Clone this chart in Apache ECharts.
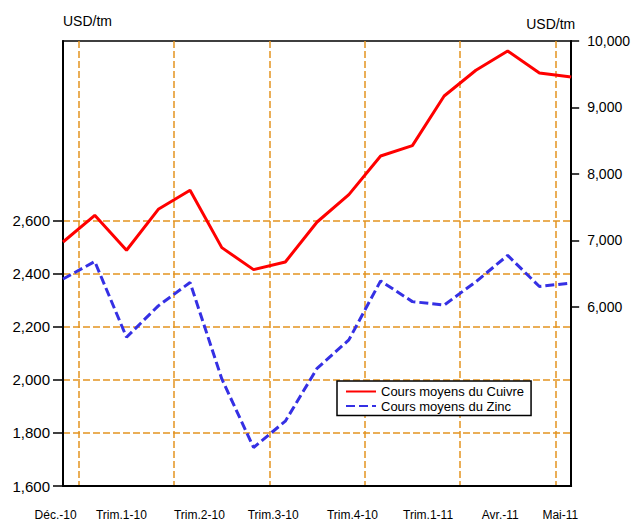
<!DOCTYPE html>
<html>
<head>
<meta charset="utf-8">
<script src="https://cdn.jsdelivr.net/npm/echarts@6/dist/echarts.min.js"></script>
<style>html,body{margin:0;padding:0;background:#fff}#c{width:633px;height:524px}</style>
</head>
<body>
<div id="c"></div>
<script>
// Monthly periods (Dec-09 .. Apr-11)
const months = ['Déc.-09','Janv.-10','Févr.-10','Mars-10','Avr.-10','Mai-10','Juin-10','Juil.-10','Août-10','Sept.-10','Oct.-10','Nov.-10','Déc.-10','Janv.-11','Févr.-11','Mars-11','Avr.-11'];
// Copper (right axis, USD/tm)
const cuivre = [6974, 7376, 6849, 7466, 7752, 6889, 6558, 6673, 7275, 7687, 8269, 8425, 9172, 9559, 9849, 9518, 9458];
// Zinc (left axis, USD/tm)
const zinc = [2379, 2445, 2160, 2278, 2366, 2003, 1745, 1844, 2043, 2150, 2372, 2294, 2281, 2369, 2468, 2351, 2364];
// Category tick labels and where they sit (in month index units)
const xLabels = ['Déc.-10','Trim.1-10','Trim.2-10','Trim.3-10','Trim.4-10','Trim.1-11','Avr.-11','Mai-11'];
const xLabelAt = [-0.23, 1.83, 4.27, 6.58, 9.06, 11.43, 13.69, 15.57];
// Quarter separators (vertical grid lines)
const quarterBreaks = [0.5, 3.5, 6.5, 9.5, 12.5, 15.5];
// Axis tick labels
const leftTicks = [1600, 1800, 2000, 2200, 2400, 2600];
const rightTicks = [6000, 7000, 8000, 9000, 10000];
const seriesNames = ['Cours moyens du Cuivre', 'Cours moyens du Zinc'];

const FONT = 'Liberation Sans, Arial, sans-serif';
const fmt = v => Number(v).toLocaleString('en-US');
const gridColor = '#E39420';

const chart = echarts.init(document.getElementById('c'), null, {renderer: 'svg'});
chart.setOption({
  animation: false,
  textStyle: {fontFamily: FONT},
  grid: [
    {left: 63, right: 59, top: 41, bottom: 38, show: true, borderColor: '#000', borderWidth: 1.5, backgroundColor: 'transparent'},
    {left: 47, right: 43, top: 41, bottom: 38}
  ],
  legend: {
    data: seriesNames,
    orient: 'vertical',
    left: 337, top: 381,
    itemWidth: 30, itemHeight: 14, itemGap: 1.5,
    padding: [4, 7, 3, 8],
    borderColor: '#000', borderWidth: 1.5,
    backgroundColor: '#fff',
    itemStyle: {opacity: 0},
    textStyle: {fontSize: 13, color: '#000', fontFamily: FONT}
  },
  xAxis: [
    {
      type: 'value', gridIndex: 0, min: 0, max: months.length - 1,
      axisLine: {show: true, onZero: false, lineStyle: {color: '#000', width: 2}},
      axisTick: {show: false, customValues: quarterBreaks},
      axisLabel: {show: false},
      splitLine: {show: true, lineStyle: {color: gridColor, type: [7, 3], width: 1.5}}
    },
    {
      type: 'value', gridIndex: 1, min: -0.5, max: months.length - 0.5,
      axisLine: {show: false}, axisTick: {show: false}, splitLine: {show: false},
      axisLabel: {
        customValues: xLabelAt,
        formatter: v => {
          let best = 0;
          xLabelAt.forEach((p, i) => { if (Math.abs(p - v) < Math.abs(xLabelAt[best] - v)) best = i; });
          return xLabels[best];
        },
        margin: 23, fontSize: 12, color: '#000', fontFamily: FONT
      }
    }
  ],
  yAxis: [
    {
      type: 'value', gridIndex: 0, position: 'left', min: 1600, max: 3275,
      name: 'USD/tm', nameLocation: 'end', nameGap: 13,
      nameTextStyle: {align: 'left', fontSize: 14, color: '#000', fontFamily: FONT},
      axisLine: {show: true, lineStyle: {color: '#000', width: 2}},
      axisTick: {show: true, length: 10, customValues: leftTicks, lineStyle: {color: '#000', width: 1.5}},
      axisLabel: {customValues: leftTicks, formatter: fmt, fontSize: 15, margin: 13, color: '#000', fontFamily: FONT},
      splitLine: {show: true, lineStyle: {color: gridColor, type: [7, 3], width: 1.5}}
    },
    {
      type: 'value', gridIndex: 0, position: 'right', min: 3300, max: 10000,
      name: 'USD/tm', nameLocation: 'end', nameGap: 10,
      nameTextStyle: {align: 'right', fontSize: 14, color: '#000', fontFamily: FONT, padding: [0, -4, 0, 0]},
      axisLine: {show: true, lineStyle: {color: '#000', width: 2}},
      axisTick: {show: true, length: 8, customValues: rightTicks, lineStyle: {color: '#000', width: 1.5}},
      axisLabel: {customValues: rightTicks, formatter: fmt, fontSize: 14, margin: 16, color: '#000', fontFamily: FONT},
      splitLine: {show: false}
    },
    {
      type: 'value', gridIndex: 1, show: false, min: 0, max: 1,
      splitLine: {show: false}
    }
  ],
  series: [
    {
      name: seriesNames[0], type: 'line', xAxisIndex: 0, yAxisIndex: 1,
      data: cuivre.map((v, i) => [i, v]),
      symbol: 'none', z: 4,
      lineStyle: {color: '#FF0000', width: 3},
      itemStyle: {color: '#FF0000'}
    },
    {
      name: seriesNames[1], type: 'line', xAxisIndex: 0, yAxisIndex: 0,
      data: zinc.map((v, i) => [i, v]),
      symbol: 'none', z: 3,
      lineStyle: {color: '#3530E4', width: 3, type: [9, 4]},
      itemStyle: {color: '#3530E4'}
    }
  ]
});
</script>
</body>
</html>
